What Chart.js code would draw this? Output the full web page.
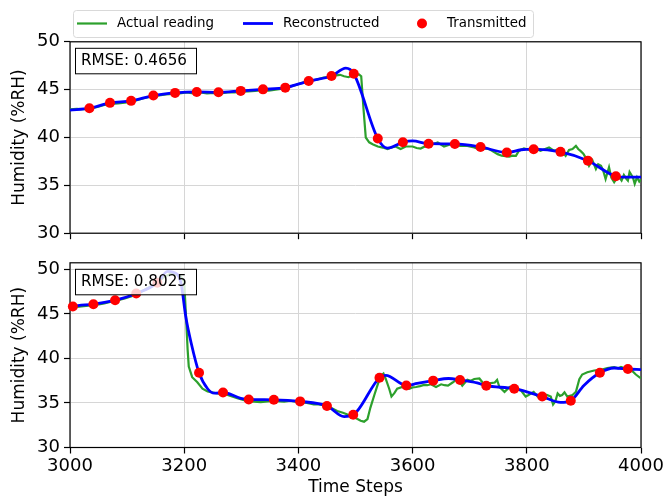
<!DOCTYPE html>
<html>
<head>
<meta charset="utf-8">
<script src="https://cdn.jsdelivr.net/npm/chart.js@4.4.1/dist/chart.umd.min.js"></script>
<style>
  html, body { margin: 0; padding: 0; background: #fff; }
  #wrap { position: relative; width: 668px; height: 496px; }
  .panel { position: absolute; left: 0; width: 668px; height: 248px; }
  #topBox { top: 0; }
  #botBox { top: 248px; }
</style>
</head>
<body>
<div id="wrap">
  <div class="panel" id="topBox"><canvas id="topChart"></canvas></div>
  <div class="panel" id="botBox"><canvas id="botChart"></canvas></div>
</div>
<script>
// ticks
const xTicks = [3000, 3200, 3400, 3600, 3800, 4000];
const yTicks = [30, 35, 40, 45, 50];

const rmseTop = 0.4656;
const rmseBottom = 0.8025;

// top panel: [time step, humidity]
const topSent = [
  [3034, 43.06], [3070, 43.62], [3107, 43.83], [3146, 44.38], [3184, 44.66],
  [3222, 44.76], [3260, 44.72], [3299, 44.87], [3338, 45.03], [3377, 45.21],
  [3418, 45.90], [3458, 46.42], [3497, 46.66], [3539, 39.89], [3583, 39.50],
  [3628, 39.35], [3674, 39.33], [3719, 39.01], [3765, 38.43], [3812, 38.78],
  [3859, 38.50], [3907, 37.58], [3956, 35.95]
];

const topRecon = [
  [3000, 42.85], [3034, 43.06], [3070, 43.62], [3107, 43.83], [3146, 44.38],
  [3184, 44.66], [3222, 44.76], [3260, 44.72], [3299, 44.87], [3338, 45.03],
  [3377, 45.21], [3418, 45.90], [3458, 46.42], [3483, 47.25], [3497, 46.66],
  [3539, 39.89], [3556, 38.90], [3583, 39.50], [3600, 39.65], [3628, 39.35],
  [3674, 39.33], [3719, 39.01], [3765, 38.43], [3790, 38.72], [3812, 38.78],
  [3859, 38.50], [3907, 37.58], [3956, 35.95], [3975, 35.85], [4000, 35.85]
];

const topActual = [
  [3000, 42.95], [3012, 43.0], [3024, 42.95], [3036, 43.05], [3048, 43.2],
  [3060, 43.4], [3072, 43.5], [3084, 43.55], [3096, 43.65], [3108, 43.75],
  [3120, 43.95], [3132, 44.15], [3144, 44.3], [3156, 44.4], [3168, 44.5],
  [3180, 44.55], [3192, 44.6], [3204, 44.7], [3216, 44.62], [3228, 44.7],
  [3240, 44.6], [3252, 44.65], [3264, 44.6], [3276, 44.7], [3288, 44.72],
  [3300, 44.8], [3312, 44.82], [3324, 44.88], [3336, 44.95], [3348, 44.9],
  [3360, 45.0], [3372, 45.1], [3384, 45.3], [3396, 45.5], [3408, 45.75],
  [3420, 45.9], [3432, 46.05], [3444, 46.25], [3456, 46.35], [3466, 46.5],
  [3473, 46.55], [3480, 46.4], [3488, 46.3], [3495, 46.55], [3506, 46.6],
  [3510, 46.4], [3514, 43.0], [3518, 40.0], [3524, 39.5], [3530, 39.3],
  [3539, 39.06], [3548, 38.95], [3556, 38.78], [3563, 38.95], [3570, 39.06],
  [3579, 38.8], [3588, 39.06], [3600, 39.06], [3607, 38.9], [3614, 38.85],
  [3626, 39.2], [3635, 39.3], [3644, 39.47], [3655, 39.06], [3667, 39.3],
  [3676, 39.2], [3684, 39.13], [3696, 39.13], [3708, 38.96], [3719, 38.7],
  [3727, 38.85], [3734, 38.78], [3742, 38.5], [3749, 38.26], [3756, 38.1],
  [3763, 38.05], [3769, 38.0], [3775, 38.1], [3781, 38.08], [3786, 38.6],
  [3795, 38.85], [3802, 38.75], [3810, 38.7], [3817, 38.8], [3824, 38.6],
  [3832, 38.8], [3839, 38.95], [3848, 38.6], [3856, 38.77], [3862, 38.5],
  [3868, 38.08], [3874, 38.7], [3880, 38.8], [3886, 39.12], [3890, 38.8],
  [3894, 38.6], [3899, 38.3], [3903, 37.9], [3909, 37.04], [3915, 37.6],
  [3921, 36.7], [3925, 37.2], [3930, 37.04], [3934, 36.5], [3938, 35.66],
  [3944, 36.9], [3948, 35.8], [3953, 35.32], [3957, 35.7], [3962, 35.84],
  [3966, 35.5], [3970, 36.08], [3974, 35.7], [3977, 35.5], [3980, 36.4],
  [3986, 35.8], [3989, 35.15], [3993, 35.84], [3997, 35.4], [4000, 35.6]
];

// bottom panel
const botSent = [
  [3005, 45.84], [3041, 46.10], [3079, 46.55], [3116, 47.30], [3153, 48.50],
  [3226, 38.39], [3268, 36.18], [3313, 35.40], [3357, 35.36], [3403, 35.18],
  [3450, 34.67], [3496, 33.67], [3542, 37.84], [3589, 36.96], [3636, 37.51],
  [3683, 37.59], [3729, 36.94], [3778, 36.61], [3827, 35.72], [3877, 35.26],
  [3928, 38.39], [3977, 38.82]
];

const botRecon = [
  [3000, 45.72], [3005, 45.84], [3041, 46.10], [3079, 46.55], [3116, 47.30],
  [3153, 48.50], [3171, 49.78], [3180, 49.70], [3194, 48.57], [3203, 44.6],
  [3212, 41.8], [3226, 38.39], [3241, 36.6], [3253, 36.1], [3268, 36.18],
  [3299, 35.53], [3313, 35.40], [3357, 35.36], [3403, 35.18], [3450, 34.67],
  [3480, 33.47], [3496, 33.67], [3542, 37.84], [3553, 38.1], [3589, 36.96],
  [3608, 37.2], [3636, 37.51], [3663, 37.75], [3683, 37.59], [3713, 37.25],
  [3729, 36.94], [3778, 36.61], [3827, 35.72], [3859, 35.07], [3877, 35.26],
  [3900, 36.97], [3928, 38.39], [3953, 38.93], [3977, 38.82], [4000, 38.75]
];

const botActual = [
  [3000, 45.65], [3012, 45.8], [3024, 45.88], [3036, 45.95], [3048, 46.05],
  [3060, 46.2], [3072, 46.38], [3084, 46.55], [3096, 46.75], [3108, 47.0],
  [3120, 47.35], [3132, 47.75], [3144, 48.2], [3156, 48.7], [3166, 49.2],
  [3176, 49.5], [3186, 49.45], [3194, 49.2], [3200, 48.6], [3203, 45.0],
  [3206, 41.0], [3208, 39.1], [3214, 37.9], [3223, 37.33], [3232, 36.6],
  [3241, 36.3], [3258, 36.07], [3276, 35.9], [3293, 35.53], [3311, 35.2],
  [3334, 35.1], [3350, 35.2], [3363, 35.2], [3375, 35.15], [3386, 35.25],
  [3395, 35.15], [3404, 35.1], [3415, 35.0], [3427, 34.83], [3436, 34.85],
  [3444, 34.75], [3456, 34.5], [3468, 34.1], [3478, 33.9], [3486, 33.7],
  [3498, 33.4], [3509, 33.0], [3515, 32.9], [3521, 33.2], [3526, 34.46],
  [3533, 35.9], [3538, 36.9], [3544, 38.04], [3549, 38.3], [3553, 37.7],
  [3559, 36.6], [3563, 35.72], [3568, 36.1], [3573, 36.6], [3582, 36.8],
  [3588, 36.7], [3594, 36.6], [3600, 36.75], [3606, 36.8], [3613, 36.9],
  [3620, 37.04], [3626, 37.0], [3632, 37.1], [3641, 36.8], [3650, 37.1],
  [3656, 37.0], [3662, 36.95], [3670, 37.3], [3679, 37.75], [3687, 36.95],
  [3696, 37.6], [3702, 37.5], [3708, 37.7], [3717, 37.75], [3725, 37.1],
  [3734, 37.2], [3744, 37.3], [3748, 37.6], [3752, 36.8], [3761, 36.25],
  [3770, 36.8], [3779, 36.6], [3785, 36.5], [3790, 36.4], [3798, 35.72],
  [3803, 35.9], [3812, 36.25], [3819, 35.72], [3827, 35.8], [3835, 35.9],
  [3842, 35.72], [3846, 34.83], [3850, 35.2], [3854, 36.07], [3858, 35.8],
  [3862, 35.9], [3866, 36.2], [3871, 35.72], [3880, 35.9], [3886, 36.25],
  [3892, 37.67], [3897, 38.2], [3906, 38.45], [3918, 38.65], [3930, 38.72],
  [3941, 38.93], [3953, 39.04], [3960, 38.9], [3965, 39.04], [3976, 38.8],
  [3985, 38.57], [3991, 38.2], [3998, 37.86], [4000, 37.8]
];

const FONT = 'DejaVu Sans';
const GREEN = '#2ca02c';
const BLUE = '#0000ff';
const RED = '#ff0000';
const GRID = '#d6d6d6';

const toXY = arr => arr.map(([x, y]) => ({ x, y }));

// black box around the plot area
const framePlugin = {
  id: 'frame',
  beforeDatasetsDraw(chart) {
    const { ctx, chartArea: a } = chart;
    ctx.save();
    ctx.strokeStyle = '#000';
    ctx.lineWidth = 1.2;
    ctx.strokeRect(a.left, a.top, a.right - a.left, a.bottom - a.top);
    ctx.restore();
  }
};

// RMSE text box in the upper left corner
const rmsePlugin = {
  id: 'rmseBox',
  afterDatasetsDraw(chart, args, opts) {
    const { ctx, chartArea: a } = chart;
    const x = a.left + 5.5, y = a.top + 6.5, w = 121, h = 25.5;
    ctx.save();
    ctx.fillStyle = 'rgba(255,255,255,0.8)';
    ctx.fillRect(x, y, w, h);
    ctx.strokeStyle = '#000';
    ctx.lineWidth = 1;
    ctx.strokeRect(x, y, w, h);
    ctx.fillStyle = '#000';
    ctx.font = '15.2px "' + FONT + '"';
    ctx.textBaseline = 'middle';
    ctx.fillText(opts.text, x + 5.5, y + h / 2 + 0.5);
    ctx.restore();
  }
};

// legend across the top, drawn from the dataset labels
const legendPlugin = {
  id: 'topLegend',
  afterDraw(chart) {
    const ctx = chart.ctx;
    const sets = chart.data.datasets;
    const byLabel = l => sets.find(d => d.label === l);
    const items = [
      { ds: byLabel('Actual reading'), sx: 77, tx: 117 },
      { ds: byLabel('Reconstructed'), sx: 243, tx: 283 },
      { ds: byLabel('Transmitted'), sx: 422, tx: 447 }
    ];
    const cy = 23.5;
    ctx.save();
    ctx.beginPath();
    ctx.roundRect(73.5, 10.5, 460, 27, 3);
    ctx.fillStyle = 'rgba(255,255,255,0.8)';
    ctx.fill();
    ctx.strokeStyle = '#d9d9d9';
    ctx.lineWidth = 1;
    ctx.stroke();
    ctx.font = '13.4px "' + FONT + '"';
    ctx.textBaseline = 'middle';
    items.forEach(it => {
      if (it.ds.showLine === false) {
        ctx.beginPath();
        ctx.arc(it.sx, cy, it.ds.pointRadius, 0, Math.PI * 2);
        ctx.fillStyle = it.ds.pointBackgroundColor;
        ctx.fill();
      } else {
        ctx.beginPath();
        ctx.moveTo(it.sx, cy);
        ctx.lineTo(it.sx + 30, cy);
        ctx.strokeStyle = it.ds.borderColor;
        ctx.lineWidth = it.ds.borderWidth;
        ctx.stroke();
      }
      ctx.fillStyle = '#000';
      ctx.fillText(it.ds.label, it.tx, cy + 0.5);
    });
    ctx.restore();
  }
};

function makePanel(canvasId, actual, recon, sent, rmse, isBottom) {
  const plugins = [framePlugin, rmsePlugin];
  if (!isBottom) plugins.push(legendPlugin);

  return new Chart(document.getElementById(canvasId), {
    type: 'line',
    data: {
      datasets: [
        {
          label: 'Transmitted',
          data: toXY(sent),
          showLine: false,
          pointRadius: 5,
          pointHoverRadius: 5,
          pointBorderWidth: 0,
          pointBackgroundColor: RED,
          borderColor: RED,
          backgroundColor: RED,
          clip: false,
          order: 1
        },
        {
          label: 'Reconstructed',
          data: toXY(recon),
          borderColor: BLUE,
          borderWidth: 2.8,
          pointRadius: 0,
          cubicInterpolationMode: 'monotone',
          order: 2
        },
        {
          label: 'Actual reading',
          data: toXY(actual),
          borderColor: GREEN,
          borderWidth: 2.2,
          pointRadius: 0,
          tension: 0,
          order: 3
        }
      ]
    },
    options: {
      responsive: true,
      maintainAspectRatio: false,
      animation: false,
      events: [],
      layout: {
        padding: isBottom
          ? { top: 7, right: 27, bottom: 0, left: 0 }
          : { top: 41.8, right: 27, bottom: 5.5, left: 0 }
      },
      plugins: {
        legend: { display: false },
        tooltip: { enabled: false },
        rmseBox: { text: 'RMSE: ' + rmse.toFixed(4) }
      },
      scales: {
        x: {
          type: 'linear',
          min: 3000,
          max: 4000,
          afterBuildTicks: s => { s.ticks = xTicks.map(v => ({ value: v })); },
          afterFit: s => { s.height = isBottom ? 48.5 : 8; },
          border: { display: false },
          grid: {
            color: GRID,
            lineWidth: 1,
            tickColor: '#000',
            tickLength: 6,
            tickWidth: 1.2
          },
          ticks: {
            display: isBottom,
            color: '#000',
            padding: 2,
            maxRotation: 0,
            autoSkip: false,
            callback: v => String(v),
            font: { family: FONT, size: 18 }
          },
          title: {
            display: isBottom,
            text: 'Time Steps',
            color: '#000',
            padding: { top: 0, bottom: 0 },
            font: { family: FONT, size: 17, lineHeight: 1 }
          }
        },
        y: {
          min: 30,
          max: isBottom ? 50.75 : 50,
          afterBuildTicks: s => { s.ticks = yTicks.map(v => ({ value: v })); },
          afterFit: s => { s.width = 70; },
          border: { display: false },
          grid: {
            color: GRID,
            lineWidth: 1,
            tickColor: '#000',
            tickLength: 6,
            tickWidth: 1.2
          },
          ticks: {
            color: '#000',
            padding: 4,
            callback: v => String(v),
            font: { family: FONT, size: 18 }
          },
          title: {
            display: true,
            text: 'Humidity (%RH)',
            color: '#000',
            padding: { top: 11, bottom: 0 },
            font: { family: FONT, size: 17, lineHeight: 1 }
          }
        }
      }
    },
    plugins: plugins
  });
}

makePanel('topChart', topActual, topRecon, topSent, rmseTop, false);
makePanel('botChart', botActual, botRecon, botSent, rmseBottom, true);
</script>
</body>
</html>
